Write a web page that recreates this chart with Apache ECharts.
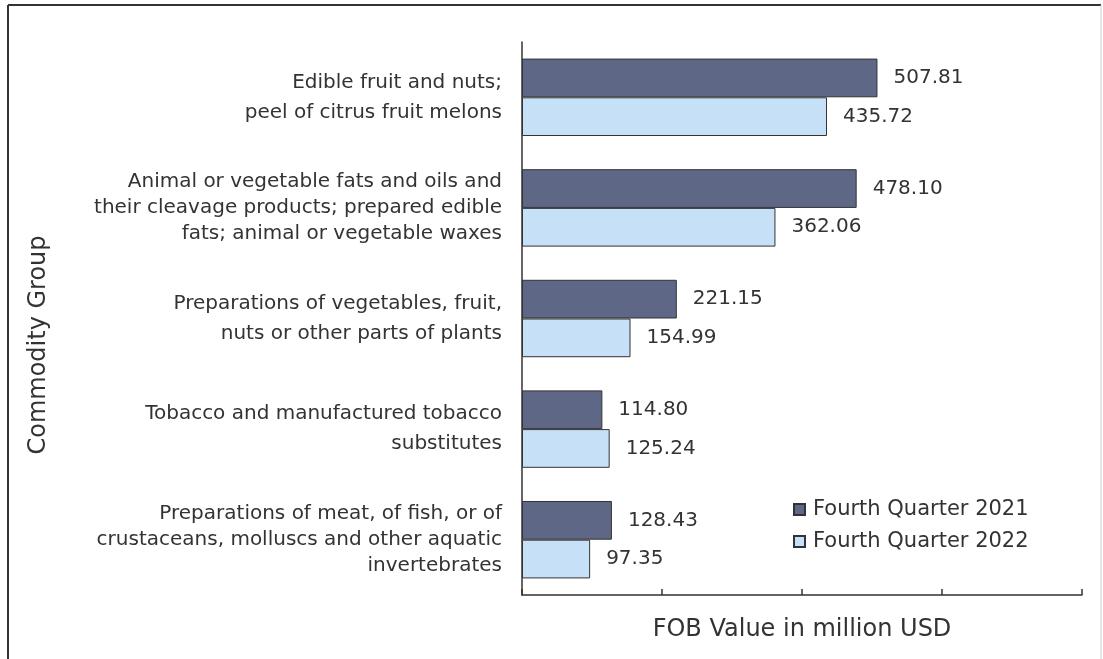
<!DOCTYPE html>
<html><head><meta charset="utf-8">
<script src="https://cdn.jsdelivr.net/npm/echarts@6/dist/echarts.min.js"></script>
<style>html,body{margin:0;padding:0;background:#fff}#c{width:1103px;height:659px}</style>
</head><body><div id="c"></div>
<script>
const categories = [
  "Edible fruit and nuts;\npeel of citrus fruit melons",
  "Animal or vegetable fats and oils and\ntheir cleavage products; prepared edible\nfats; animal or vegetable waxes",
  "Preparations of vegetables, fruit,\nnuts or other parts of plants",
  "Tobacco and manufactured tobacco\nsubstitutes",
  "Preparations of meat, of fish, or of\ncrustaceans, molluscs and other aquatic\ninvertebrates"
];
const q2021 = [507.81, 478.10, 221.15, 114.80, 128.43];
const q2022 = [435.72, 362.06, 154.99, 125.24, 97.35];
const seriesNames = ["Fourth Quarter 2021", "Fourth Quarter 2022"];

const chart = echarts.init(document.getElementById('c'), null, {renderer: 'canvas'});
const font = 'DejaVu Sans, Verdana, sans-serif';
const txt = '#333';
const lbl = {show: true, position: 'right', distance: 16, fontSize: 20, color: txt, fontFamily: font,
  formatter: p => p.value.toFixed(2)};
chart.setOption({
  animation: false,
  graphic: [
    {type: 'line', shape: {x1: 8, y1: 5, x2: 1101, y2: 5}, style: {stroke: '#333', lineWidth: 2}},
    {type: 'line', shape: {x1: 8, y1: 5, x2: 8, y2: 659}, style: {stroke: '#333', lineWidth: 2}},
    {type: 'line', shape: {x1: 1101, y1: 5, x2: 1101, y2: 659}, style: {stroke: '#ccc', lineWidth: 1}},
    {type: 'text', x: 39, y: 345, rotation: Math.PI / 2,
     style: {text: 'Commodity Group', fontSize: 24, fill: txt, fontFamily: font, align: 'center', verticalAlign: 'middle'}}
  ],
  legend: {
    orient: 'vertical', left: 788, top: 494, itemWidth: 11, itemHeight: 11, itemGap: 11, icon: 'rect',
    textStyle: {fontSize: 21, color: txt, fontFamily: font, padding: [0,0,0,3]},
    data: seriesNames
  },
  grid: {left: 522, top: 42, right: 21, bottom: 64, containLabel: false},
  xAxis: {
    type: 'value', min: 0, max: 800, interval: 200,
    name: 'FOB Value in million USD', nameLocation: 'middle', nameGap: 23,
    nameTextStyle: {fontSize: 24, color: txt, fontFamily: font},
    axisLine: {show: true, lineStyle: {color: '#333', width: 1.5}},
    axisTick: {show: true, inside: true, length: 6, lineStyle: {color: '#333', width: 1.5}},
    axisLabel: {show: false}, splitLine: {show: false}
  },
  yAxis: {
    type: 'category', inverse: true, data: categories,
    axisLine: {show: true, lineStyle: {color: '#333', width: 1.5}},
    axisTick: {show: false},
    axisLabel: {
      margin: 20, align: 'right',
      formatter: v => {
        const lines = v.split('\n');
        const tag = lines.length === 2 ? 'a' : 'b';
        return lines.map(l => '{' + tag + '|' + l + '}').join('\n');
      },
      rich: {
        a: {fontSize: 20, color: txt, fontFamily: font, lineHeight: 30, align: 'right'},
        b: {fontSize: 20, color: txt, fontFamily: font, lineHeight: 26, align: 'right'}
      }
    }
  },
  series: [
    {name: seriesNames[0], type: 'bar', data: q2021, barCategoryGap: '30%', barGap: '0%',
     itemStyle: {color: '#5f6787', borderColor: '#333', borderWidth: 1}, label: lbl},
    {name: seriesNames[1], type: 'bar', data: q2022, barCategoryGap: '30%', barGap: '0%',
     itemStyle: {color: '#c6e1f7', borderColor: '#333', borderWidth: 1}, label: lbl}
  ]
});
</script></body></html>
